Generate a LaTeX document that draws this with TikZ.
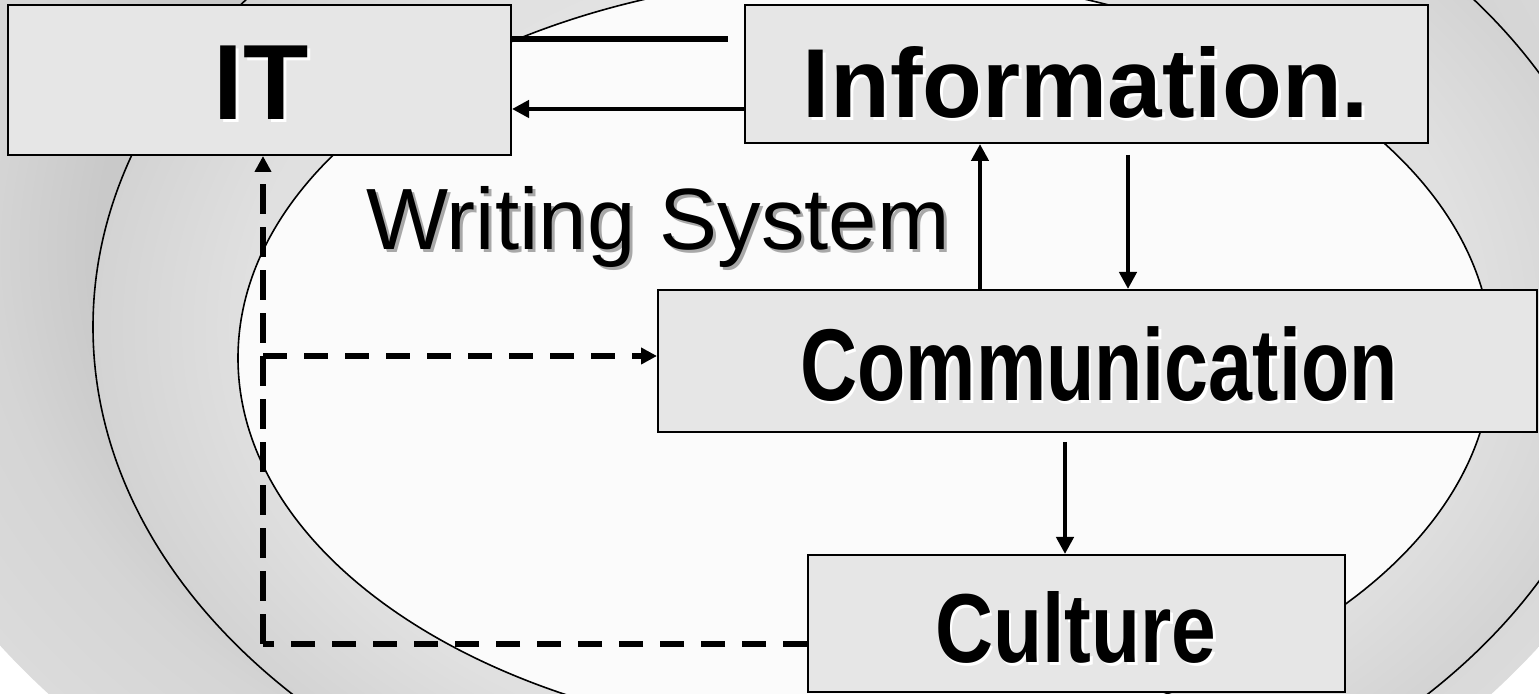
\documentclass[tikz,border=0pt]{standalone}
\usepackage{fontspec}
\setmainfont{Liberation Sans}
\usepackage{graphicx}
\usetikzlibrary{arrows.meta}
\definecolor{boxfill}{HTML}{E6E6E6}
\definecolor{innerfill}{HTML}{FBFBFB}
\definecolor{bgA}{HTML}{C4C4C4}
\definecolor{bgB}{HTML}{C9C9C9}
\definecolor{bgC}{HTML}{D5D5D5}
\definecolor{bgD}{HTML}{DBDBDB}
\definecolor{rgA}{HTML}{ECECEC}
\definecolor{rgB}{HTML}{E0E0E0}
\definecolor{rgC}{HTML}{D3D3D3}
\definecolor{wshadow}{HTML}{A8A8A8}
\pgfdeclareradialshading{bgshade}{\pgfpointorigin}{color(0bp)=(bgA); color(18bp)=(bgB); color(21bp)=(bgC); color(25bp)=(bgD); color(50bp)=(bgD)}
\pgfdeclareradialshading{ringshade}{\pgfpointorigin}{color(0bp)=(rgA); color(20bp)=(rgB); color(25bp)=(rgC); color(50bp)=(rgC)}
\newcommand{\shtxt}[2]{\makebox[0pt][l]{\hspace{1.5pt}\raisebox{-1.5pt}{\textcolor{#1}{#2}}}#2}
\begin{document}
\begin{tikzpicture}[x=0.5pt,y=-0.5pt,
  box/.style={draw=black, line width=1pt, fill=boxfill, inner sep=0pt},
  lbl/.style={anchor=base, inner sep=0pt},
  ring/.style={draw=black, line width=0.8pt},
  plainline/.style={line width=3pt},
  arr/.style={line width=2.2pt, -{Triangle[length=8.5pt,width=8.5pt]}},
  dashh/.style={line width=2.6pt, dash pattern=on 12pt off 8.5pt},
  dashv/.style={line width=2.6pt, dash pattern=on 15pt off 6.5pt},
  tip/.style={-{Triangle[length=8pt,width=8pt]}}
]
\useasboundingbox (0,0) rectangle (1539,694);
\fill[white] (0,0) rectangle (1539,694);
\begin{scope}
  \clip (0,0) rectangle (1539,694);
  \shade[shading=bgshade] (770,250) ellipse [x radius=466.5pt, y radius=350pt];
  \shadedraw[shading=ringshade, ring] (860,327) ellipse [x radius=383.5pt, y radius=273pt];
  \filldraw[fill=innerfill, ring] (865,358) ellipse [x radius=313.5pt, y radius=191.5pt];
\end{scope}

% boxes
\node[box, minimum width=251.5pt, minimum height=75pt] (it) at (259.5,80) {};
\node[box, minimum width=341.5pt, minimum height=69pt] (info) at (1086.5,74) {};
\node[box, minimum width=439.5pt, minimum height=71pt] (comm) at (1097.5,361) {};
\node[box, minimum width=268.5pt, minimum height=68.5pt] (cult) at (1076.5,623.5) {};

% labels
\node[lbl] (itt) at (261,120) {\fontsize{53.5pt}{60pt}\selectfont\bfseries\shtxt{white}{IT}};
\node[lbl] (infot) at (1086,118) {\fontsize{49pt}{56pt}\selectfont\bfseries\shtxt{white}{Information.}};
\node[lbl] (commt) at (1099,401) {\fontsize{51pt}{58pt}\selectfont\bfseries\scalebox{0.775}[1]{\shtxt{white}{Communication}}};
\node[lbl] (cultt) at (1076,663) {\fontsize{49pt}{56pt}\selectfont\bfseries\scalebox{0.82}[1]{\shtxt{white}{Culture}}};
\node[anchor=base west, inner sep=0pt] (ws) at (366,250) {\fontsize{43.5pt}{50pt}\selectfont\shtxt{wshadow}{Writing System}};

% connectors
\coordinate (topend) at (728,39);
\draw[plainline] (topend -| it.east) -- (topend);
\coordinate (a2) at (0,109);
\draw[arr] (a2 -| info.west) -- (a2 -| it.east);
\coordinate (a3) at (980,0);
\draw[arr] (a3 |- comm.north) -- (a3 |- info.south);
\coordinate (a4) at (1128,155);
\draw[arr] (a4) -- (a4 |- comm.north);
\coordinate (a5) at (1065,442);
\draw[arr] (a5) -- (a5 |- cult.north);
\coordinate (corner) at (263,644);
\draw[dashh] (corner -| cult.west) -- (corner);
\draw[dashv, tip] (corner) -- (corner |- it.south);
\coordinate (tee) at (263,356);
\draw[dashh, tip] (tee) -- (tee -| comm.west);
\end{tikzpicture}
\end{document}
